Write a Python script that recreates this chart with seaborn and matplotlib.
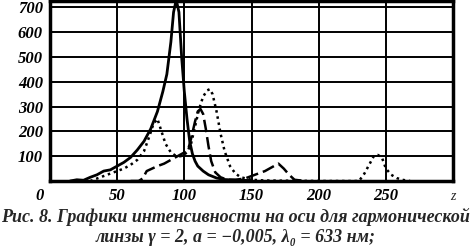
import matplotlib
matplotlib.use("Agg")
import matplotlib.pyplot as plt
import matplotlib.transforms as mtransforms
import seaborn as sns
import pandas as pd

sns.set_theme(style="white")
plt.rcParams['font.family'] = ['Liberation Serif', 'DejaVu Serif']

# Solid curve
z_solid = [15, 20, 25, 30, 35, 40, 45, 50, 55, 60, 65, 70, 75, 80, 84, 87, 90, 92, 94, 96, 98, 100, 102, 104, 106, 108, 110, 114, 118, 124, 130, 140, 150]
i_solid = [0, 5, 3, 15, 25, 40, 45, 60, 75, 95, 125, 160, 210, 280, 360, 430, 560, 680, 730, 680, 500, 360, 250, 160, 110, 80, 60, 40, 25, 12, 6, 3, 2]

# Dotted curve
z_dot = [30, 35, 40, 45, 50, 55, 60, 65, 70, 74, 77, 80, 83, 86, 90, 94, 98, 102, 105, 108, 111, 114, 117, 119, 121, 124, 127, 130, 134, 138, 142, 150, 160, 200, 230, 234, 238, 241, 244, 247, 250, 254, 258, 262, 268]
i_dot = [0, 10, 20, 30, 40, 50, 65, 85, 120, 180, 230, 250, 200, 150, 115, 100, 100, 115, 150, 220, 290, 340, 365, 370, 350, 280, 190, 120, 60, 30, 15, 5, 2, 0, 0, 30, 70, 100, 105, 95, 50, 25, 12, 5, 0]

# Dashed curve
z_dash = [60, 66, 69, 72, 76, 80, 85, 90, 95, 100, 103, 105, 108, 110, 112, 114, 116, 118, 120, 123, 127, 132, 138, 145, 150, 155, 160, 165, 170, 174, 178, 182, 190]
i_dash = [0, 0, 10, 40, 50, 60, 70, 85, 100, 115, 130, 170, 240, 280, 290, 270, 210, 140, 80, 35, 15, 5, 5, 10, 20, 30, 40, 55, 70, 50, 25, 5, 0]

x_ticks = [0, 50, 100, 150, 200, 250]
y_ticks = [100, 200, 300, 400, 500, 600, 700]
caption_1 = "Рис. 8. Графики интенсивности на оси для гармонической"
caption_2 = "линзы γ = 2, a = −0,005, λ₀ = 633 нм;"

fig = plt.figure(figsize=(4.71, 2.5), dpi=100)
ax = fig.add_axes([0.106, 0.276, 0.856, 0.72])

df_s = pd.DataFrame({"z": z_solid, "I": i_solid})
df_d = pd.DataFrame({"z": z_dot, "I": i_dot})
df_a = pd.DataFrame({"z": z_dash, "I": i_dash})

sns.lineplot(data=df_s, x="z", y="I", ax=ax, color="black", linewidth=2.0)
sns.lineplot(data=df_d, x="z", y="I", ax=ax, color="black", linewidth=1.8, linestyle=(0, (1, 1.5)))
sns.lineplot(data=df_a, x="z", y="I", ax=ax, color="black", linewidth=1.8, linestyle=(0, (5, 2)))

ax.set_xlim(0, 300)
ax.set_ylim(0, 725)
ax.set_xticks(x_ticks)
ax.set_yticks(y_ticks)
ax.grid(True, color="black", linewidth=1.4)
ax.set_axisbelow(True)
for s in ax.spines.values():
    s.set_color("black")
    s.set_linewidth(2.5)
ax.set_xlabel("")
ax.set_ylabel("")
ax.tick_params(axis="both", length=0, labelsize=12, colors="black")
for lab in ax.get_xticklabels() + ax.get_yticklabels():
    lab.set_fontstyle("italic")
    lab.set_fontweight("bold")
ax.tick_params(axis="x", pad=5)
ax.tick_params(axis="y", pad=5)
# shift "0" label slightly left as in reference
xl = ax.get_xticklabels()
xl[0].set_transform(xl[0].get_transform() + mtransforms.ScaledTranslation(-0.1, 0, fig.dpi_scale_trans))
ax.text(300, -0.05, "z", transform=ax.get_xaxis_transform(), ha="center", va="top",
        fontsize=10, fontstyle="italic")
fig.text(0.5, 0.134, caption_1, ha="center", va="center", fontsize=13,
         fontstyle="italic", fontweight="bold")
fig.text(0.5, 0.048, caption_2, ha="center", va="center", fontsize=13,
         fontstyle="italic", fontweight="bold")

fig.savefig("out.png", dpi=100)
